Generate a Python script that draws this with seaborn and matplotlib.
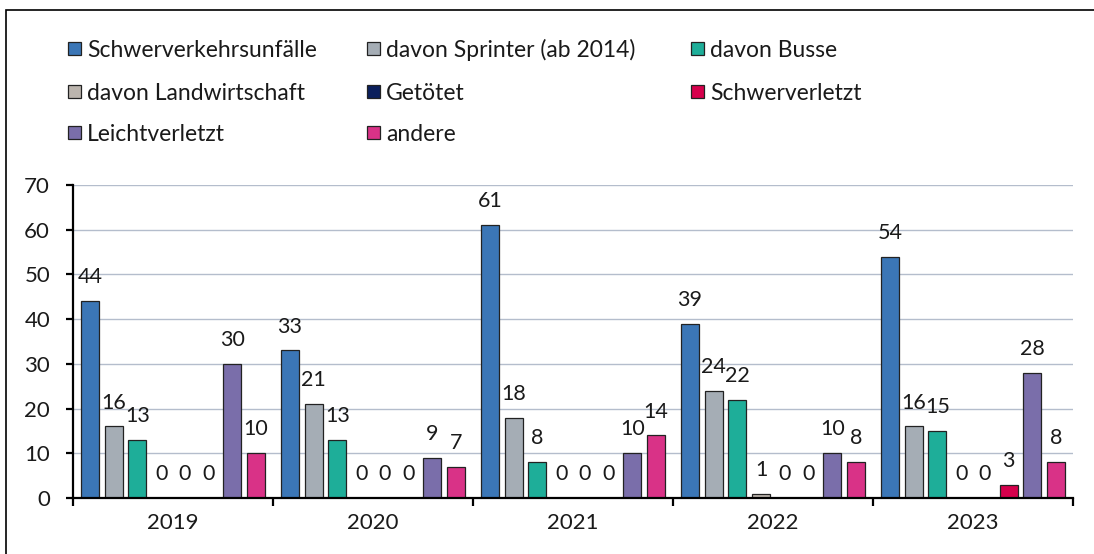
import matplotlib
matplotlib.use("Agg")
import matplotlib.pyplot as plt
import matplotlib.patches as mpatches
import seaborn as sns
import pandas as pd
import numpy as np

years = ["2019", "2020", "2021", "2022", "2023"]
categories = ["Schwerverkehrsunfälle", "davon Sprinter (ab 2014)", "davon Busse",
              "davon Landwirtschaft", "Getötet", "Schwerverletzt",
              "Leichtverletzt", "andere"]
schwerverkehr = [44, 33, 61, 39, 54]
sprinter = [16, 21, 18, 24, 16]
busse = [13, 13, 8, 22, 15]
landwirtschaft = [0, 0, 0, 1, 0]
getoetet = [0, 0, 0, 0, 0]
schwerverletzt = [0, 0, 0, 0, 3]
leichtverletzt = [30, 9, 10, 10, 28]
andere = [10, 7, 14, 8, 8]
series = [schwerverkehr, sprinter, busse, landwirtschaft, getoetet,
          schwerverletzt, leichtverletzt, andere]
colors = ["#3B76B6", "#A5ADB5", "#1EAE99", "#BCB5AE", "#0B1F5C",
          "#D6004C", "#7A6EAA", "#D93287"]

rows = []
for cat, vals in zip(categories, series):
    for y, v in zip(years, vals):
        rows.append({"Jahr": y, "Kategorie": cat, "Wert": v})
df = pd.DataFrame(rows)

sns.set_theme(style="white")
FONT = "Lato"
plt.rcParams["font.family"] = [FONT, "DejaVu Sans"]
TXT = "#1a1a1a"

W, H = 1094, 554
fig = plt.figure(figsize=(W / 100, H / 100), dpi=100)
ax = fig.add_axes([73 / W, 1 - 498 / H, (1073 - 73) / W, (498 - 185) / H])

sns.barplot(data=df, x="Jahr", y="Wert", hue="Kategorie", hue_order=categories,
            palette=colors, saturation=1, width=0.95, gap=0.24,
            edgecolor="#222222", linewidth=0.9, ax=ax, legend=False)

for cont in ax.containers:
    ax.bar_label(cont, padding=10, fontsize=15.5, color=TXT, fmt="%g")

ax.set_ylim(0, 70)
ax.set_xlim(-0.5, 4.5)
ax.set_yticks(range(0, 71, 10))
ax.yaxis.grid(True, color="#B4BDCC", linewidth=1.0)
ax.set_axisbelow(True)
ax.set_xlabel("")
ax.set_ylabel("")
for s in ["top", "right"]:
    ax.spines[s].set_visible(False)
for s in ["left", "bottom"]:
    ax.spines[s].set_color("black")
    ax.spines[s].set_linewidth(1.6)
ax.tick_params(axis="y", which="major", left=True, length=5, width=1.6,
               color="black", direction="out", pad=11.5, labelsize=16, labelcolor=TXT)
ax.set_xticks(np.arange(-0.5, 5, 1), minor=True)
ax.tick_params(axis="x", which="minor", bottom=True, length=6, width=1.6,
               color="black", direction="out")
ax.tick_params(axis="x", which="major", bottom=False, length=0, pad=11,
               labelsize=16, labelcolor=TXT)

# Legend laid out in Excel's row-major grid with fixed column positions
col_x = [68, 367, 691]
row_base = [57, 100, 141]
for i, (cat, col) in enumerate(zip(categories, colors)):
    r, c = divmod(i, 3)
    x0 = col_x[c]
    yb = row_base[r]
    fig.patches.append(mpatches.Rectangle((x0 / W, 1 - (yb - 2) / H), 13 / W, 13 / H,
                                          transform=fig.transFigure,
                                          facecolor=col, edgecolor="#222222",
                                          linewidth=0.9))
    fig.text((x0 + 19) / W, 1 - yb / H, cat, fontsize=16.5, color=TXT,
             ha="left", va="baseline")

fig.patches.append(mpatches.Rectangle((6 / W, -0.02), 1.1, 1 - 10 / H + 0.02,
                                      transform=fig.transFigure, fill=False,
                                      edgecolor="black", linewidth=1.2))

fig.savefig("out.png", dpi=100)
